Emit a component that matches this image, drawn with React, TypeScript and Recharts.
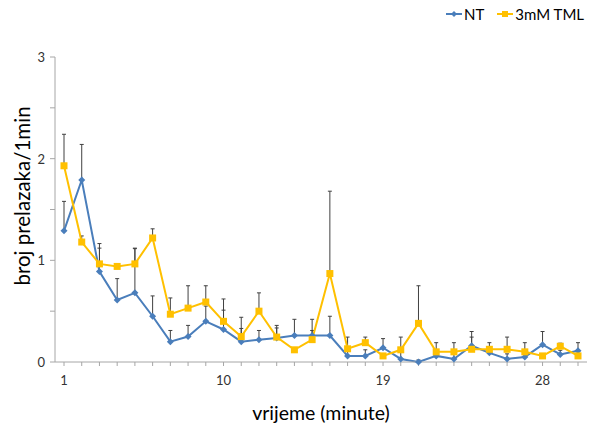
import * as React from 'react';
import { LineChart, Line, XAxis, YAxis, ErrorBar } from 'recharts';

const minutes = Array.from({ length: 30 }, (_, i) => String(i + 1));

const ntValues = [
  1.29, 1.79, 0.89, 0.61, 0.68, 0.45, 0.2, 0.25, 0.4, 0.32, 0.2, 0.22, 0.235, 0.26, 0.26,
  0.26, 0.06, 0.06, 0.14, 0.03, 0.0, 0.06, 0.03, 0.16, 0.09, 0.03, 0.05, 0.17, 0.075, 0.11,
];
const ntErrors = [
  0.29, 0.35, 0.23, 0.21, 0.44, 0.2, 0.11, 0.11, 0.15, 0.19, 0.13, 0.09, 0.1, 0.16, 0.16,
  0.19, 0.08, 0.06, 0.09, 0.08, 0.02, 0.05, 0.05, 0.14, 0.05, 0.05, 0.05, 0.13, 0.04, 0.08,
];
const tmlValues = [
  1.93, 1.18, 0.965, 0.94, 0.965, 1.22, 0.47, 0.53, 0.59, 0.4, 0.25, 0.5, 0.245, 0.12, 0.22,
  0.87, 0.13, 0.19, 0.06, 0.12, 0.38, 0.1, 0.1, 0.125, 0.125, 0.125, 0.1, 0.06, 0.155, 0.06,
];
const tmlErrors = [
  0.31, 0.06, 0.2, 0.02, 0.15, 0.09, 0.16, 0.22, 0.16, 0.22, 0.19, 0.18, 0.115, 0.02, 0.09,
  0.81, 0.115, 0.055, 0.02, 0.125, 0.37, 0.09, 0.09, 0.12, 0.065, 0.12, 0.09, 0.02, 0.03, 0.02,
];

const xLabelTicks = ['1', '10', '19', '28'];
const yTicks = [0, 0.5, 1, 1.5, 2, 2.5, 3];

const BLUE = '#4a7ebb';
const YELLOW = '#ffc000';
const FONT = 'Lato, "Open Sans", sans-serif';

const data = minutes.map((m, i) => ({
  minute: m,
  nt: ntValues[i],
  ntErr: [0, ntErrors[i]],
  tml: tmlValues[i],
  tmlErr: [0, tmlErrors[i]],
}));

function Diamond(props: any) {
  const { cx, cy } = props;
  if (cx == null || cy == null) return null;
  return <path d={`M${cx},${cy - 3.5}L${cx + 3.5},${cy}L${cx},${cy + 3.5}L${cx - 3.5},${cy}Z`} fill={BLUE} />;
}

function Square(props: any) {
  const { cx, cy } = props;
  if (cx == null || cy == null) return null;
  return <rect x={cx - 3.5} y={cy - 3.5} width={7} height={7} fill={YELLOW} />;
}

function XTick(props: any) {
  const { x, y, payload } = props;
  if (!xLabelTicks.includes(payload.value)) return null;
  return (
    <text x={x} y={y + 17} textAnchor="middle" fontSize={13} fill="#333" fontFamily={FONT}>
      {payload.value}
    </text>
  );
}

function YTick(props: any) {
  const { x, y, payload } = props;
  if (payload.value % 1 !== 0) return null;
  return (
    <text x={x - 3} y={y + 5} textAnchor="end" fontSize={13} fill="#333" fontFamily={FONT}>
      {payload.value}
    </text>
  );
}

function YLabel() {
  return (
    <text
      x={22}
      y={196}
      transform="rotate(-90 22 196)"
      textAnchor="middle"
      dominantBaseline="central"
      fontSize={20.5}
      fill="#000"
      fontFamily={FONT}
    >
      broj prelazaka/1min
    </text>
  );
}

export default function App() {
  return (
    <div style={{ position: 'absolute', left: 0, top: 0, width: 592, height: 434, background: '#fff' }}>
      <LineChart width={592} height={434} data={data} margin={{ top: 57, right: 5, bottom: 0, left: 0 }}>
        <XAxis
          dataKey="minute"
          interval={0}
          height={72}
          padding={{ left: 9, right: 9 }}
          tick={<XTick />}
          tickSize={4}
          axisLine={{ stroke: '#a6a6a6' }}
          tickLine={{ stroke: '#a6a6a6' }}
          label={{ value: 'vrijeme (minute)', position: 'insideBottom', offset: 14, fontSize: 19.5, fill: '#000', fontFamily: FONT }}
        />
        <YAxis
          domain={[0, 3]}
          ticks={yTicks}
          width={55}
          tick={<YTick />}
          tickSize={5}
          axisLine={{ stroke: '#a6a6a6' }}
          tickLine={{ stroke: '#a6a6a6' }}
          label={<YLabel />}
        />
        <Line dataKey="nt" stroke={BLUE} strokeWidth={2} dot={<Diamond />} isAnimationActive={false}>
          <ErrorBar dataKey="ntErr" direction="y" width={2} stroke="#404040" strokeWidth={1} />
        </Line>
        <Line dataKey="tml" stroke={YELLOW} strokeWidth={2} dot={<Square />} isAnimationActive={false}>
          <ErrorBar dataKey="tmlErr" direction="y" width={2} stroke="#404040" strokeWidth={1} />
        </Line>
      </LineChart>
      <div
        style={{
          position: 'absolute',
          top: 5,
          left: 446,
          display: 'flex',
          alignItems: 'center',
          fontFamily: FONT,
          fontSize: 15,
          color: '#000',
        }}
      >
        <svg width={16} height={10}>
          <line x1={0} y1={5} x2={16} y2={5} stroke={BLUE} strokeWidth={2} />
          <path d="M8,2L11,5L8,8L5,5Z" fill={BLUE} />
        </svg>
        <span style={{ marginLeft: 2, marginRight: 13 }}>NT</span>
        <svg width={16} height={10}>
          <line x1={0} y1={5} x2={16} y2={5} stroke={YELLOW} strokeWidth={2} />
          <rect x={5} y={2} width={6} height={6} fill={YELLOW} />
        </svg>
        <span style={{ marginLeft: 2 }}>3mM TML</span>
      </div>
    </div>
  );
}
